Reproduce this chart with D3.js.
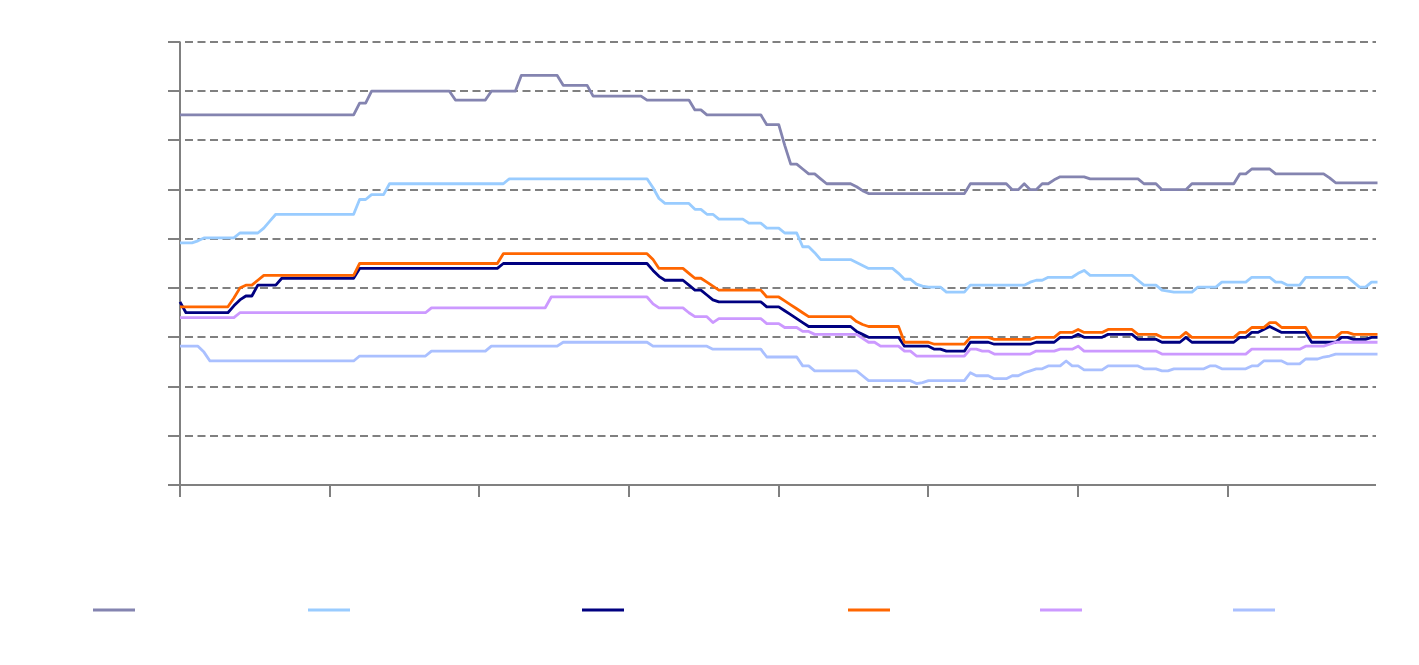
<!DOCTYPE html>
<html>
<head>
<meta charset="utf-8">
<script src="https://cdn.jsdelivr.net/npm/d3@7"></script>
<style>
  html, body { margin: 0; padding: 0; background: #fff; }
  svg { display: block; }
</style>
</head>
<body>
<div id="chart"></div>
<script>
// periods on the x axis (index of each observation)
var periods = d3.range(201);
var xTicks = [0, 25, 50, 75, 100, 125, 150, 175];
var yTicks = [0, 0.5, 1, 1.5, 2, 2.5, 3, 3.5, 4, 4.5];

var slateSeries = [
  3.76,3.76,3.76,3.76,3.76,3.76,3.76,3.76,3.76,3.76,
  3.76,3.76,3.76,3.76,3.76,3.76,3.76,3.76,3.76,3.76,
  3.76,3.76,3.76,3.76,3.76,3.76,3.76,3.76,3.76,3.76,
  3.88,3.88,4.00,4.00,4.00,4.00,4.00,4.00,4.00,4.00,
  4.00,4.00,4.00,4.00,4.00,4.00,3.91,3.91,3.91,3.91,
  3.91,3.91,4.00,4.00,4.00,4.00,4.00,4.16,4.16,4.16,
  4.16,4.16,4.16,4.16,4.06,4.06,4.06,4.06,4.06,3.95,
  3.95,3.95,3.95,3.95,3.95,3.95,3.95,3.95,3.91,3.91,
  3.91,3.91,3.91,3.91,3.91,3.91,3.81,3.81,3.76,3.76,
  3.76,3.76,3.76,3.76,3.76,3.76,3.76,3.76,3.66,3.66,
  3.66,3.45,3.26,3.26,3.21,3.16,3.16,3.11,3.06,3.06,
  3.06,3.06,3.06,3.03,2.99,2.96,2.96,2.96,2.96,2.96,
  2.96,2.96,2.96,2.96,2.96,2.96,2.96,2.96,2.96,2.96,
  2.96,2.96,3.06,3.06,3.06,3.06,3.06,3.06,3.06,3.00,
  3.00,3.06,3.00,3.00,3.06,3.06,3.10,3.13,3.13,3.13,
  3.13,3.13,3.11,3.11,3.11,3.11,3.11,3.11,3.11,3.11,
  3.11,3.06,3.06,3.06,3.00,3.00,3.00,3.00,3.00,3.06,
  3.06,3.06,3.06,3.06,3.06,3.06,3.06,3.16,3.16,3.21,
  3.21,3.21,3.21,3.16,3.16,3.16,3.16,3.16,3.16,3.16,
  3.16,3.16,3.12,3.07,3.07,3.07,3.07,3.07,3.07,3.07,
  3.07
];

var skySeries = [
  2.46,2.46,2.46,2.48,2.51,2.51,2.51,2.51,2.51,2.51,
  2.56,2.56,2.56,2.56,2.61,2.68,2.75,2.75,2.75,2.75,
  2.75,2.75,2.75,2.75,2.75,2.75,2.75,2.75,2.75,2.75,
  2.90,2.90,2.95,2.95,2.95,3.06,3.06,3.06,3.06,3.06,
  3.06,3.06,3.06,3.06,3.06,3.06,3.06,3.06,3.06,3.06,
  3.06,3.06,3.06,3.06,3.06,3.11,3.11,3.11,3.11,3.11,
  3.11,3.11,3.11,3.11,3.11,3.11,3.11,3.11,3.11,3.11,
  3.11,3.11,3.11,3.11,3.11,3.11,3.11,3.11,3.11,3.02,
  2.91,2.86,2.86,2.86,2.86,2.86,2.80,2.80,2.75,2.75,
  2.70,2.70,2.70,2.70,2.70,2.66,2.66,2.66,2.61,2.61,
  2.61,2.56,2.56,2.56,2.42,2.42,2.36,2.29,2.29,2.29,
  2.29,2.29,2.29,2.26,2.23,2.20,2.20,2.20,2.20,2.20,
  2.15,2.09,2.09,2.04,2.02,2.01,2.01,2.01,1.96,1.96,
  1.96,1.96,2.03,2.03,2.03,2.03,2.03,2.03,2.03,2.03,
  2.03,2.03,2.06,2.08,2.08,2.11,2.11,2.11,2.11,2.11,
  2.15,2.18,2.13,2.13,2.13,2.13,2.13,2.13,2.13,2.13,
  2.08,2.03,2.03,2.03,1.98,1.97,1.96,1.96,1.96,1.96,
  2.01,2.01,2.01,2.01,2.06,2.06,2.06,2.06,2.06,2.11,
  2.11,2.11,2.11,2.06,2.06,2.03,2.03,2.03,2.11,2.11,
  2.11,2.11,2.11,2.11,2.11,2.11,2.06,2.01,2.01,2.06,
  2.06
];

var navySeries = [
  1.86,1.75,1.75,1.75,1.75,1.75,1.75,1.75,1.75,1.82,
  1.88,1.92,1.92,2.03,2.03,2.03,2.03,2.10,2.10,2.10,
  2.10,2.10,2.10,2.10,2.10,2.10,2.10,2.10,2.10,2.10,
  2.20,2.20,2.20,2.20,2.20,2.20,2.20,2.20,2.20,2.20,
  2.20,2.20,2.20,2.20,2.20,2.20,2.20,2.20,2.20,2.20,
  2.20,2.20,2.20,2.20,2.25,2.25,2.25,2.25,2.25,2.25,
  2.25,2.25,2.25,2.25,2.25,2.25,2.25,2.25,2.25,2.25,
  2.25,2.25,2.25,2.25,2.25,2.25,2.25,2.25,2.25,2.18,
  2.12,2.08,2.08,2.08,2.08,2.03,1.98,1.98,1.93,1.88,
  1.86,1.86,1.86,1.86,1.86,1.86,1.86,1.86,1.81,1.81,
  1.81,1.77,1.73,1.69,1.65,1.61,1.61,1.61,1.61,1.61,
  1.61,1.61,1.61,1.56,1.53,1.50,1.50,1.50,1.50,1.50,
  1.50,1.41,1.41,1.41,1.41,1.41,1.38,1.38,1.36,1.36,
  1.36,1.36,1.45,1.45,1.45,1.45,1.43,1.43,1.43,1.43,
  1.43,1.43,1.43,1.45,1.45,1.45,1.45,1.50,1.50,1.50,
  1.53,1.50,1.50,1.50,1.50,1.53,1.53,1.53,1.53,1.53,
  1.48,1.48,1.48,1.48,1.45,1.45,1.45,1.45,1.50,1.45,
  1.45,1.45,1.45,1.45,1.45,1.45,1.45,1.50,1.50,1.55,
  1.55,1.58,1.61,1.58,1.55,1.55,1.55,1.55,1.55,1.45,
  1.45,1.45,1.45,1.45,1.50,1.50,1.48,1.48,1.48,1.50,
  1.50
];

var orangeSeries = [
  1.81,1.81,1.81,1.81,1.81,1.81,1.81,1.81,1.81,1.90,
  2.00,2.03,2.03,2.08,2.13,2.13,2.13,2.13,2.13,2.13,
  2.13,2.13,2.13,2.13,2.13,2.13,2.13,2.13,2.13,2.13,
  2.25,2.25,2.25,2.25,2.25,2.25,2.25,2.25,2.25,2.25,
  2.25,2.25,2.25,2.25,2.25,2.25,2.25,2.25,2.25,2.25,
  2.25,2.25,2.25,2.25,2.35,2.35,2.35,2.35,2.35,2.35,
  2.35,2.35,2.35,2.35,2.35,2.35,2.35,2.35,2.35,2.35,
  2.35,2.35,2.35,2.35,2.35,2.35,2.35,2.35,2.35,2.29,
  2.20,2.20,2.20,2.20,2.20,2.15,2.10,2.10,2.06,2.02,
  1.98,1.98,1.98,1.98,1.98,1.98,1.98,1.98,1.91,1.91,
  1.91,1.87,1.83,1.79,1.75,1.71,1.71,1.71,1.71,1.71,
  1.71,1.71,1.71,1.66,1.63,1.61,1.61,1.61,1.61,1.61,
  1.61,1.45,1.45,1.45,1.45,1.45,1.43,1.43,1.43,1.43,
  1.43,1.43,1.50,1.50,1.50,1.50,1.48,1.48,1.48,1.48,
  1.48,1.48,1.48,1.50,1.50,1.50,1.50,1.55,1.55,1.55,
  1.58,1.55,1.55,1.55,1.55,1.58,1.58,1.58,1.58,1.58,
  1.53,1.53,1.53,1.53,1.50,1.50,1.50,1.50,1.55,1.50,
  1.50,1.50,1.50,1.50,1.50,1.50,1.50,1.55,1.55,1.60,
  1.60,1.60,1.65,1.65,1.60,1.60,1.60,1.60,1.60,1.50,
  1.50,1.50,1.50,1.50,1.55,1.55,1.53,1.53,1.53,1.53,
  1.53
];

var lilacSeries = [
  1.70,1.70,1.70,1.70,1.70,1.70,1.70,1.70,1.70,1.70,
  1.75,1.75,1.75,1.75,1.75,1.75,1.75,1.75,1.75,1.75,
  1.75,1.75,1.75,1.75,1.75,1.75,1.75,1.75,1.75,1.75,
  1.75,1.75,1.75,1.75,1.75,1.75,1.75,1.75,1.75,1.75,
  1.75,1.75,1.80,1.80,1.80,1.80,1.80,1.80,1.80,1.80,
  1.80,1.80,1.80,1.80,1.80,1.80,1.80,1.80,1.80,1.80,
  1.80,1.80,1.91,1.91,1.91,1.91,1.91,1.91,1.91,1.91,
  1.91,1.91,1.91,1.91,1.91,1.91,1.91,1.91,1.91,1.84,
  1.80,1.80,1.80,1.80,1.80,1.75,1.71,1.71,1.71,1.65,
  1.69,1.69,1.69,1.69,1.69,1.69,1.69,1.69,1.64,1.64,
  1.64,1.60,1.60,1.60,1.56,1.56,1.53,1.53,1.53,1.53,
  1.53,1.53,1.53,1.53,1.49,1.45,1.45,1.41,1.41,1.41,
  1.41,1.36,1.36,1.31,1.31,1.31,1.31,1.31,1.31,1.31,
  1.31,1.31,1.38,1.38,1.36,1.36,1.33,1.33,1.33,1.33,
  1.33,1.33,1.33,1.36,1.36,1.36,1.36,1.38,1.38,1.38,
  1.41,1.36,1.36,1.36,1.36,1.36,1.36,1.36,1.36,1.36,
  1.36,1.36,1.36,1.36,1.33,1.33,1.33,1.33,1.33,1.33,
  1.33,1.33,1.33,1.33,1.33,1.33,1.33,1.33,1.33,1.38,
  1.38,1.38,1.38,1.38,1.38,1.38,1.38,1.38,1.41,1.41,
  1.41,1.41,1.43,1.45,1.45,1.45,1.45,1.45,1.45,1.45,
  1.45
];

var periwinkleSeries = [
  1.41,1.41,1.41,1.41,1.35,1.26,1.26,1.26,1.26,1.26,
  1.26,1.26,1.26,1.26,1.26,1.26,1.26,1.26,1.26,1.26,
  1.26,1.26,1.26,1.26,1.26,1.26,1.26,1.26,1.26,1.26,
  1.31,1.31,1.31,1.31,1.31,1.31,1.31,1.31,1.31,1.31,
  1.31,1.31,1.36,1.36,1.36,1.36,1.36,1.36,1.36,1.36,
  1.36,1.36,1.41,1.41,1.41,1.41,1.41,1.41,1.41,1.41,
  1.41,1.41,1.41,1.41,1.45,1.45,1.45,1.45,1.45,1.45,
  1.45,1.45,1.45,1.45,1.45,1.45,1.45,1.45,1.45,1.41,
  1.41,1.41,1.41,1.41,1.41,1.41,1.41,1.41,1.41,1.38,
  1.38,1.38,1.38,1.38,1.38,1.38,1.38,1.38,1.30,1.30,
  1.30,1.30,1.30,1.30,1.21,1.21,1.16,1.16,1.16,1.16,
  1.16,1.16,1.16,1.16,1.11,1.06,1.06,1.06,1.06,1.06,
  1.06,1.06,1.06,1.03,1.04,1.06,1.06,1.06,1.06,1.06,
  1.06,1.06,1.14,1.11,1.11,1.11,1.08,1.08,1.08,1.11,
  1.11,1.14,1.16,1.18,1.18,1.21,1.21,1.21,1.26,1.21,
  1.21,1.17,1.17,1.17,1.17,1.21,1.21,1.21,1.21,1.21,
  1.21,1.18,1.18,1.18,1.16,1.16,1.18,1.18,1.18,1.18,
  1.18,1.18,1.21,1.21,1.18,1.18,1.18,1.18,1.18,1.21,
  1.21,1.26,1.26,1.26,1.26,1.23,1.23,1.23,1.28,1.28,
  1.28,1.30,1.31,1.33,1.33,1.33,1.33,1.33,1.33,1.33,
  1.33
];

var seriesList = [slateSeries, skySeries, navySeries, orangeSeries, lilacSeries, periwinkleSeries];
var seriesColors = ["#8484b0", "#99ccff", "#000080", "#ff6600", "#cc99ff", "#aac0ff"];

(function() {
    "use strict";

    var width = 1419,
        height = 665,
        margin = {top: 42, right: 43, bottom: 180, left: 180},
        plotRight = width - margin.right,
        axisColor = "#808080",
        legendX = [93, 308, 582, 848, 1040, 1233],
        legendY = 610,

        svg = d3.select("#chart")
            .append("svg")
            .attr("width", width)
            .attr("height", height),

        x = d3.scaleLinear()
            .domain([0, periods.length - 1])
            .range([margin.left, plotRight + 1.5]),

        y = d3.scaleLinear()
            .domain([0, 4.5])
            .range([height - margin.bottom, margin.top]),

        yCrisp = function(d) { return Math.round(y(d)); };

    // dashed horizontal gridlines
    svg.append("g")
        .selectAll("line")
        .data(yTicks.slice(1))
        .enter()
        .append("line")
        .attr("x1", x(0))
        .attr("x2", plotRight)
        .attr("y1", yCrisp)
        .attr("y2", yCrisp)
        .attr("stroke", axisColor)
        .attr("stroke-width", 2)
        .attr("stroke-dasharray", "8,4.5")
        .attr("stroke-dashoffset", 7.5);

    // y axis, ticks only
    var yAxis = svg.append("g")
        .attr("transform", "translate(" + x(0) + ",0)")
        .call(d3.axisLeft(y)
            .tickValues(yTicks)
            .tickSize(12)
            .tickSizeOuter(0)
            .tickFormat(""));

    yAxis.selectAll(".tick")
        .attr("transform", function(d) { return "translate(0," + yCrisp(d) + ")"; });

    // x axis, ticks only
    var xAxis = svg.append("g")
        .attr("transform", "translate(0," + yCrisp(0) + ")")
        .call(d3.axisBottom(x)
            .tickValues(xTicks)
            .tickSize(12)
            .tickSizeOuter(0)
            .tickFormat(""));

    xAxis.selectAll(".tick")
        .attr("transform", function(d) { return "translate(" + Math.round(x(d)) + ",0)"; });

    [yAxis, xAxis].forEach(function(g) {
        g.select(".domain").attr("stroke", axisColor).attr("stroke-width", 2);
        g.selectAll(".tick line").attr("stroke", axisColor).attr("stroke-width", 2);
    });
    yAxis.select(".domain").attr("d", "M0," + yCrisp(4.5) + "V" + yCrisp(0));
    xAxis.select(".domain").attr("d", "M" + (x(0) - 1) + ",0H" + plotRight);

    var line = d3.line()
        .x(function(d, i) { return x(periods[i]); })
        .y(function(d) { return y(d); });

    svg.append("g")
        .selectAll("path")
        .data(seriesList)
        .enter()
        .append("path")
        .attr("d", line)
        .attr("fill", "none")
        .attr("stroke", function(d, i) { return seriesColors[i]; })
        .attr("stroke-width", 2.8)
        .attr("stroke-linejoin", "round");

    // legend swatches (labels are blank in the original)
    svg.append("g")
        .selectAll("line")
        .data(seriesColors)
        .enter()
        .append("line")
        .attr("x1", function(d, i) { return legendX[i]; })
        .attr("x2", function(d, i) { return legendX[i] + 42; })
        .attr("y1", legendY)
        .attr("y2", legendY)
        .attr("stroke", function(d) { return d; })
        .attr("stroke-width", 3);
})();
</script>
</body>
</html>
